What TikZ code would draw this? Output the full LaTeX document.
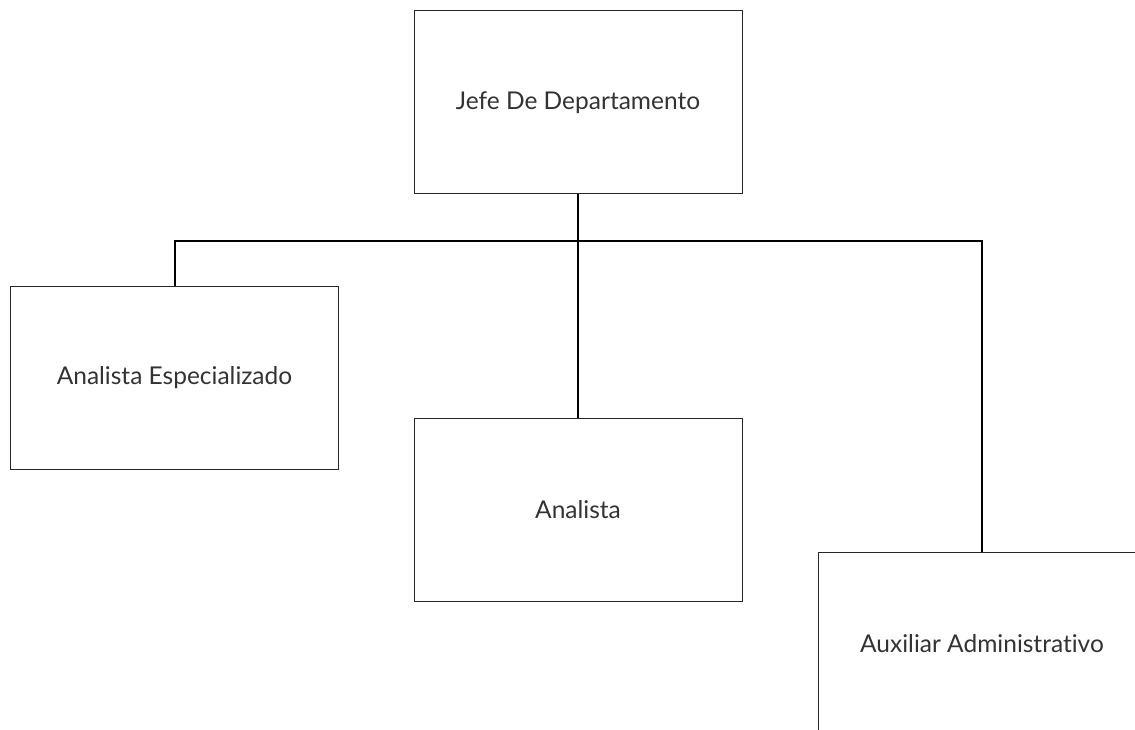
\documentclass[tikz,border=0pt]{standalone}
\usepackage{fontspec}
\setmainfont{Lato}[Ligatures=NoCommon]
\begin{document}
\begin{tikzpicture}[x=1pt,y=-1pt,
  box/.style={draw=black!85, line width=1pt, minimum width=328pt, minimum height=183pt, inner sep=0pt, text=black!80, font=\fontsize{24.5}{29}\selectfont},
  conn/.style={draw=black, line width=2pt}]
\useasboundingbox (0,0) rectangle (1135,730);
\clip (0,0) rectangle (1135,730);
\fill[white] (0,0) rectangle (1135,730);
\node[box] (jefe) at (578,102.5) {Jefe De Departamento};
\node[box] (esp) at (174.5,377.5) {Analista Especializado};
\node[box] (ana) at (578,509.5) {Analista};
\node[box] (aux) at (982,643.5) {Auxiliar Administrativo};
\coordinate (busL) at (174.5,241);
\coordinate (busR) at (982,241);
\draw[conn] (jefe.south) -- (ana.north);
\draw[conn] (esp.north) -- (busL) -- (busR) -- (aux.north);
\end{tikzpicture}
\end{document}
